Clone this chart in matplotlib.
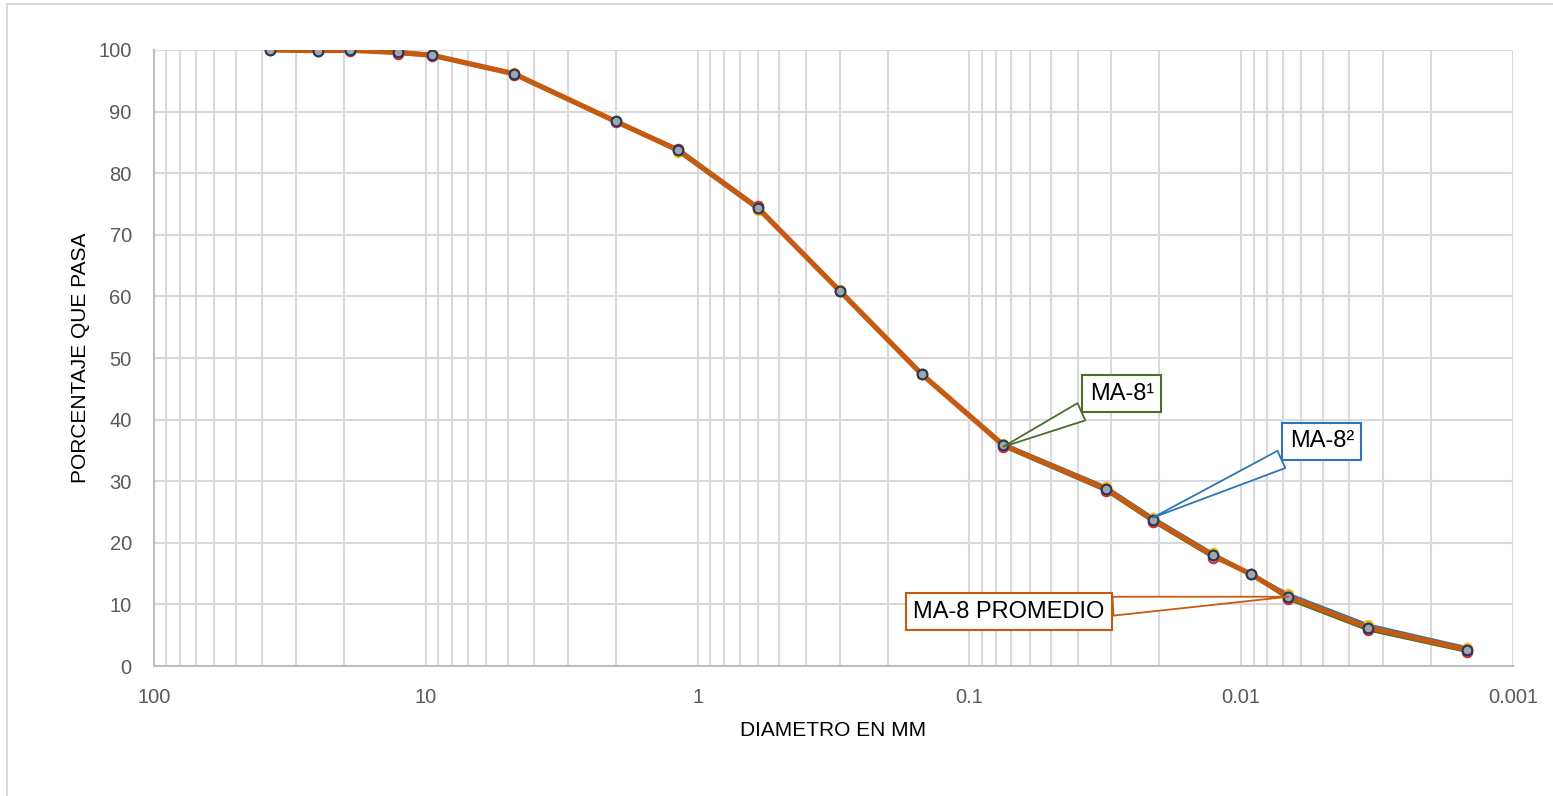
"""
Curva granulométrica MA-8 - comparación de ensayos y promedio
"""

import matplotlib
matplotlib.use("Agg")
import matplotlib.pyplot as plt
from matplotlib.patches import Rectangle
from matplotlib.ticker import FixedLocator, FixedFormatter, NullFormatter, LogLocator

plt.rcParams['font.family'] = ['Liberation Sans', 'DejaVu Sans']

# Datos (diámetro en mm, porcentaje que pasa)
diametros = [37.5, 25.0, 19.0, 12.7, 9.5, 4.75, 2.0, 1.18, 0.6, 0.3, 0.15, 0.075,
             0.0314, 0.0211, 0.0127, 0.0092, 0.0067, 0.0034, 0.00147]
pasa_ma8_1 = [100, 99.9, 99.9, 99.4, 99.0, 96.0, 88.3, 84.0, 74.6, 60.8, 47.4, 35.6,
              28.4, 23.4, 17.6, 14.9, 10.8, 5.8, 2.3]
pasa_ma8_2 = [100, 99.9, 100, 99.8, 99.3, 96.3, 88.5, 83.5, 74.1, 61.0, 47.4, 36.1,
              29.1, 24.1, 18.3, 14.9, 11.7, 6.7, 3.0]
pasa_promedio = [100, 99.9, 99.95, 99.6, 99.15, 96.15, 88.4, 83.75, 74.35, 60.9, 47.4, 35.85,
                 28.75, 23.75, 17.95, 14.9, 11.25, 6.25, 2.65]

x_ticks = [100, 10, 1, 0.1, 0.01, 0.001]
x_tick_labels = ['100', '10', '1', '0.1', '0.01', '0.001']
y_ticks = [0, 10, 20, 30, 40, 50, 60, 70, 80, 90, 100]

# Colores
verde = '#4F6B2F'
azul = '#2E75B6'
naranja = '#C55A11'
gris_marcador = '#A5A5A5'

fig = plt.figure(figsize=(15.53, 7.96), dpi=100)
ax = fig.add_axes([0.0992, 0.1633, 0.8750, 0.7739])

# Marco del área del gráfico (recortado como en el original)
fig.patches.append(Rectangle((7 / 1553, -0.2), 1.2, 1.2 - 3.5 / 796, transform=fig.transFigure,
                             fill=False, ec='#D9D9D9', lw=1.5, zorder=0))

# Series
ax.plot(diametros, pasa_ma8_1, color=verde, lw=1.8, marker='o', ms=7,
        mfc=gris_marcador, mec='#E0202A', mew=1.3, zorder=3)
ax.plot(diametros, pasa_ma8_2, color=azul, lw=1.8, marker='o', ms=7,
        mfc=gris_marcador, mec='#FFC000', mew=1.3, zorder=4)
ax.plot(diametros, pasa_promedio, color=naranja, lw=3.8, marker='o', ms=7,
        mfc=gris_marcador, mec='#1F3864', mew=1.5, zorder=5)

# Ejes
ax.set_xscale('log')
ax.set_xlim(100, 0.001)
ax.set_ylim(0, 100)
ax.xaxis.set_major_locator(FixedLocator(x_ticks))
ax.xaxis.set_major_formatter(FixedFormatter(x_tick_labels))
ax.xaxis.set_minor_locator(LogLocator(base=10, subs=range(2, 10), numticks=20))
ax.xaxis.set_minor_formatter(NullFormatter())
ax.set_yticks(y_ticks)

ax.grid(True, which='major', color='#D9D9D9', lw=1.5, zorder=0)
ax.grid(True, which='minor', axis='x', color='#D9D9D9', lw=1.5, zorder=0)
ax.tick_params(axis='both', which='both', length=0, labelsize=14.5, labelcolor='#595959')
ax.tick_params(axis='x', pad=16)
ax.tick_params(axis='y', pad=16)
for lado in ['top', 'right']:
    ax.spines[lado].set_visible(False)
ax.spines['left'].set_color('#BFBFBF')
ax.spines['bottom'].set_color('#BFBFBF')
ax.spines['left'].set_linewidth(1.5)
ax.spines['bottom'].set_linewidth(1.5)

ax.set_xlabel('DIAMETRO EN MM', fontsize=15, labelpad=10)
ax.set_ylabel('PORCENTAJE QUE PASA', fontsize=15, labelpad=6)

# Etiquetas con llamada
def llamada(texto, punto, caja, color):
    ax.annotate(texto, xy=punto, xytext=caja, textcoords='data',
                ha='center', va='center', fontsize=17, zorder=10,
                bbox=dict(boxstyle='square,pad=0.32', fc='white', ec=color, lw=1.5),
                arrowprops=dict(arrowstyle='wedge,tail_width=0.8', fc='white', ec=color,
                                lw=1.3, shrinkA=0, shrinkB=0))

llamada('MA-8¹', (diametros[11], pasa_ma8_1[11]), (0.0275, 44.2), verde)
llamada('MA-8²', (diametros[13], pasa_ma8_2[13]), (0.00505, 36.5), azul)
llamada('MA-8 PROMEDIO', (diametros[16], pasa_promedio[16]), (0.0715, 8.8), naranja)

fig.savefig('out.png', dpi=100)
